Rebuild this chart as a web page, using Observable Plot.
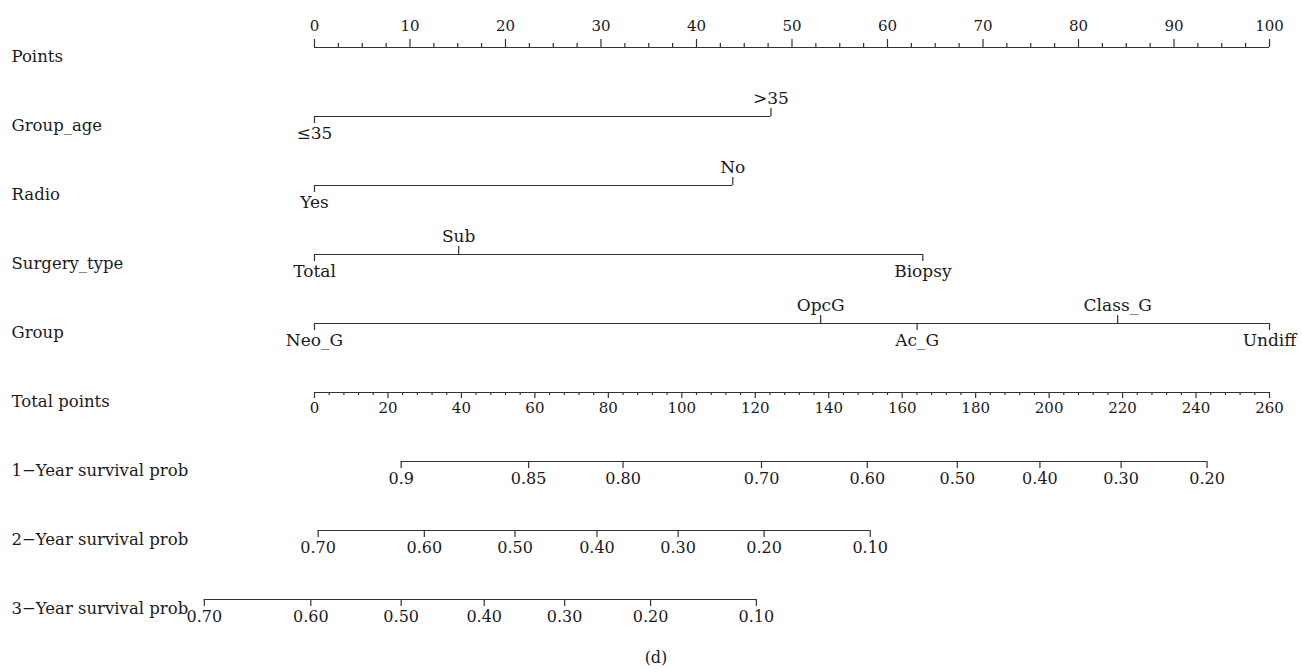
<!DOCTYPE html>
<html>
<head>
<meta charset="utf-8">
<script src="https://cdn.jsdelivr.net/npm/d3@7"></script>
<script src="https://cdn.jsdelivr.net/npm/@observablehq/plot@0.6"></script>
<style>
  body { margin: 0; background: #fff; }
  #chart svg { display: block; }
  .caption {
    font-family: "DejaVu Serif", serif;
    font-size: 16px;
    color: #1a1a1a;
    text-align: center;
    padding-left: 10px;
    line-height: 20px;
    margin-top: 18px;
  }
</style>
</head>
<body>
<div id="chart"></div>
<div class="caption">(d)</div>
<script>
// Nomogram rows, top to bottom
const rows = [
  "Points", "Group_age", "Radio", "Surgery_type", "Group", "Total points",
  "1−Year survival prob", "2−Year survival prob", "3−Year survival prob"
];

// Points scale (0–100) and total points scale (0–260)
const pointsTicks = [0, 10, 20, 30, 40, 50, 60, 70, 80, 90, 100];
const totalTicks = [0, 20, 40, 60, 80, 100, 120, 140, 160, 180, 200, 220, 240, 260];
const maxPoints = 100;
const maxTotal = 260;

// Predictor levels and the points each level contributes
const groupAgeLevels = ["≤35", ">35"];
const groupAgePoints = [0, 47.8];
const radioLevels = ["Yes", "No"];
const radioPoints = [0, 43.8];
const surgeryLevels = ["Total", "Sub", "Biopsy"];
const surgeryPoints = [0, 15.1, 63.7];
const groupLevels = ["Neo_G", "OpcG", "Ac_G", "Class_G", "Undiff"];
const groupPoints = [0, 53.0, 63.1, 84.1, 100];

// Survival probabilities and the total points where they fall
const surv1Probs = ["0.9", "0.85", "0.80", "0.70", "0.60", "0.50", "0.40", "0.30", "0.20"];
const surv1Total = [23.6, 58.3, 84.0, 121.7, 150.5, 175.0, 197.5, 219.6, 243.0];
const surv2Probs = ["0.70", "0.60", "0.50", "0.40", "0.30", "0.20", "0.10"];
const surv2Total = [1.0, 29.9, 54.6, 76.9, 99.0, 122.4, 151.3];
const surv3Probs = ["0.70", "0.60", "0.50", "0.40", "0.30", "0.20", "0.10"];
const surv3Total = [-30.0, -1.0, 23.6, 46.2, 68.1, 91.5, 120.3];

// Everything is drawn on the total-points scale
const toTotal = p => p * maxTotal / maxPoints;

const factors = [
  {row: "Group_age", levels: groupAgeLevels, points: groupAgePoints},
  {row: "Radio", levels: radioLevels, points: radioPoints},
  {row: "Surgery_type", levels: surgeryLevels, points: surgeryPoints},
  {row: "Group", levels: groupLevels, points: groupPoints}
];
const survival = [
  {row: "1−Year survival prob", probs: surv1Probs, total: surv1Total},
  {row: "2−Year survival prob", probs: surv2Probs, total: surv2Total},
  {row: "3−Year survival prob", probs: surv3Probs, total: surv3Total}
];

// Axis line of each row
const segments = [
  {row: "Points", x1: 0, x2: toTotal(maxPoints)},
  {row: "Total points", x1: 0, x2: maxTotal},
  ...factors.map(f => ({row: f.row, x1: toTotal(d3.min(f.points)), x2: toTotal(d3.max(f.points))})),
  ...survival.map(s => ({row: s.row, x1: d3.min(s.total), x2: d3.max(s.total)}))
];

// Points axis: labelled ticks every 10, minor ticks every 2.5
const pointsMajor = pointsTicks.map(v => ({row: "Points", x: toTotal(v), label: String(v)}));
const pointsMinor = d3.range(0, maxPoints + 0.01, 2.5)
  .filter(v => v % 10 !== 0).map(v => ({row: "Points", x: toTotal(v)}));

// Total points axis: labelled ticks every 20, minor ticks every 4
const totalMajor = totalTicks.map(v => ({row: "Total points", x: v, label: String(v)}));
const totalMinor = d3.range(0, maxTotal + 0.01, 4)
  .filter(v => v % 20 !== 0).map(v => ({row: "Total points", x: v}));

// Factor levels alternate below / above the line in order of position
const levelTicks = factors.flatMap(f => {
  const order = d3.range(f.levels.length).sort((a, b) => f.points[a] - f.points[b]);
  return order.map((i, k) => ({
    row: f.row, x: toTotal(f.points[i]), label: f.levels[i], side: k % 2 === 0 ? "below" : "above"
  }));
});
const levelsBelow = levelTicks.filter(d => d.side === "below");
const levelsAbove = levelTicks.filter(d => d.side === "above");

const survTicks = survival.flatMap(s => s.probs.map((p, i) => ({row: s.row, x: s.total[i], label: p})));

const ink = "#1a1a1a";
const lineColor = "#333";

// Short vertical tick: positive length points up, negative points down
const tick = (data, len) => Plot.ruleX(data, {
  x: "x", y1: "row", y2: "row",
  insetTop: len > 0 ? -len : 0,
  insetBottom: len < 0 ? len : 0,
  stroke: lineColor, strokeWidth: 1.2
});

const chart = Plot.plot({
  width: 1302,
  height: 630,
  marginLeft: 203.8,
  marginRight: 33,
  marginTop: 45.7,
  marginBottom: 29.3,
  x: {domain: [-30, maxTotal], axis: null},
  y: {type: "point", domain: rows, padding: 0, axis: null},
  style: {fontFamily: "'DejaVu Serif', serif", color: ink, background: "white"},
  marks: [
    // row names
    Plot.text(rows, {
      y: d => d, text: d => d, frameAnchor: "left", textAnchor: "start",
      dx: -192.8, dy: 9, fontSize: 16.5, fill: ink
    }),
    Plot.ruleY(segments, {y: "row", x1: "x1", x2: "x2", stroke: lineColor, strokeWidth: 1.2}),

    tick(pointsMajor, 8),
    tick(pointsMinor, 4),
    Plot.text(pointsMajor, {x: "x", y: "row", text: "label", dy: -21, fontSize: 15, fill: ink}),

    tick(totalMajor, -6),
    tick(totalMinor, -3),
    Plot.text(totalMajor, {x: "x", y: "row", text: "label", dy: 16, fontSize: 15, fill: ink}),

    tick(levelsBelow, -7),
    tick(levelsAbove, 8),
    Plot.text(levelsBelow, {x: "x", y: "row", text: "label", dy: 17.5, fontSize: 17, fill: ink}),
    Plot.text(levelsAbove, {x: "x", y: "row", text: "label", dy: -17.5, fontSize: 17, fill: ink}),

    tick(survTicks, -7),
    Plot.text(survTicks, {x: "x", y: "row", text: "label", dy: 17, fontSize: 16, fill: ink})
  ]
});

document.getElementById("chart").appendChild(chart);
</script>
</body>
</html>
